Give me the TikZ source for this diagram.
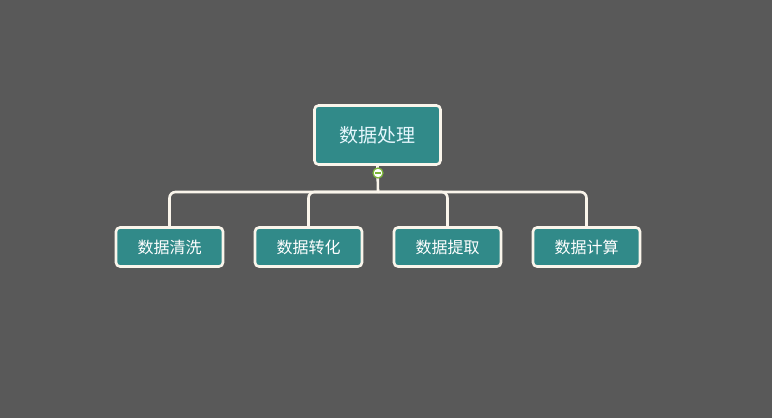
\documentclass[tikz,border=0pt]{standalone}
\usepackage{fontspec}
\newfontfamily\cjk{Noto Sans CJK SC}
\usepackage{xcolor}
\usetikzlibrary{positioning,calc}
\definecolor{bgGray}{HTML}{595959}
\definecolor{boxTeal}{HTML}{318A89}
\definecolor{edgeCream}{HTML}{FAF5EB}
\definecolor{toggleGreen}{HTML}{7DB83A}

\begin{document}
\begin{tikzpicture}[x=1pt, y=-1pt, font=\cjk,
  topic/.style={draw=edgeCream, line width=2.6pt, rounded corners=4pt, fill=boxTeal, text=white!90!cyan, minimum width=126pt, minimum height=59pt, font=\cjk\fontsize{19pt}{21pt}\selectfont},
  sub/.style={draw=edgeCream, line width=2.6pt, rounded corners=4pt, fill=boxTeal, text=white, minimum width=107pt, minimum height=39pt, font=\cjk\fontsize{16pt}{18pt}\selectfont},
  link/.style={draw=edgeCream, line width=2.6pt, rounded corners=6pt},
  toggle/.style={circle, draw=toggleGreen, line width=1.2pt, fill=white, inner sep=0pt, minimum size=10pt}]
\fill[bgGray] (0,0) rectangle (772,418);
\useasboundingbox (0,0) rectangle (772,418);

\node[topic] (root) at (377.5,135) {数据处理};
\coordinate (bus) at (378,192);

\node[sub] (clean) at (169.5,247) {数据清洗};
\node[sub, right=29.4pt of clean] (conv) {数据转化};
\node[sub, right=29.4pt of conv] (extr) {数据提取};
\node[sub, right=29.4pt of extr] (calc) {数据计算};

\draw[link] (root.south) -- (bus);
\foreach \c in {clean,conv,extr,calc}
  \draw[link] (bus) -| (\c.north);

% collapse button
\node[toggle] (tog) at (378,173) {};
\draw[toggleGreen, line width=1.4pt] ($(tog.center)+(-3,0)$) -- ($(tog.center)+(3,0)$);
\end{tikzpicture}
\end{document}
